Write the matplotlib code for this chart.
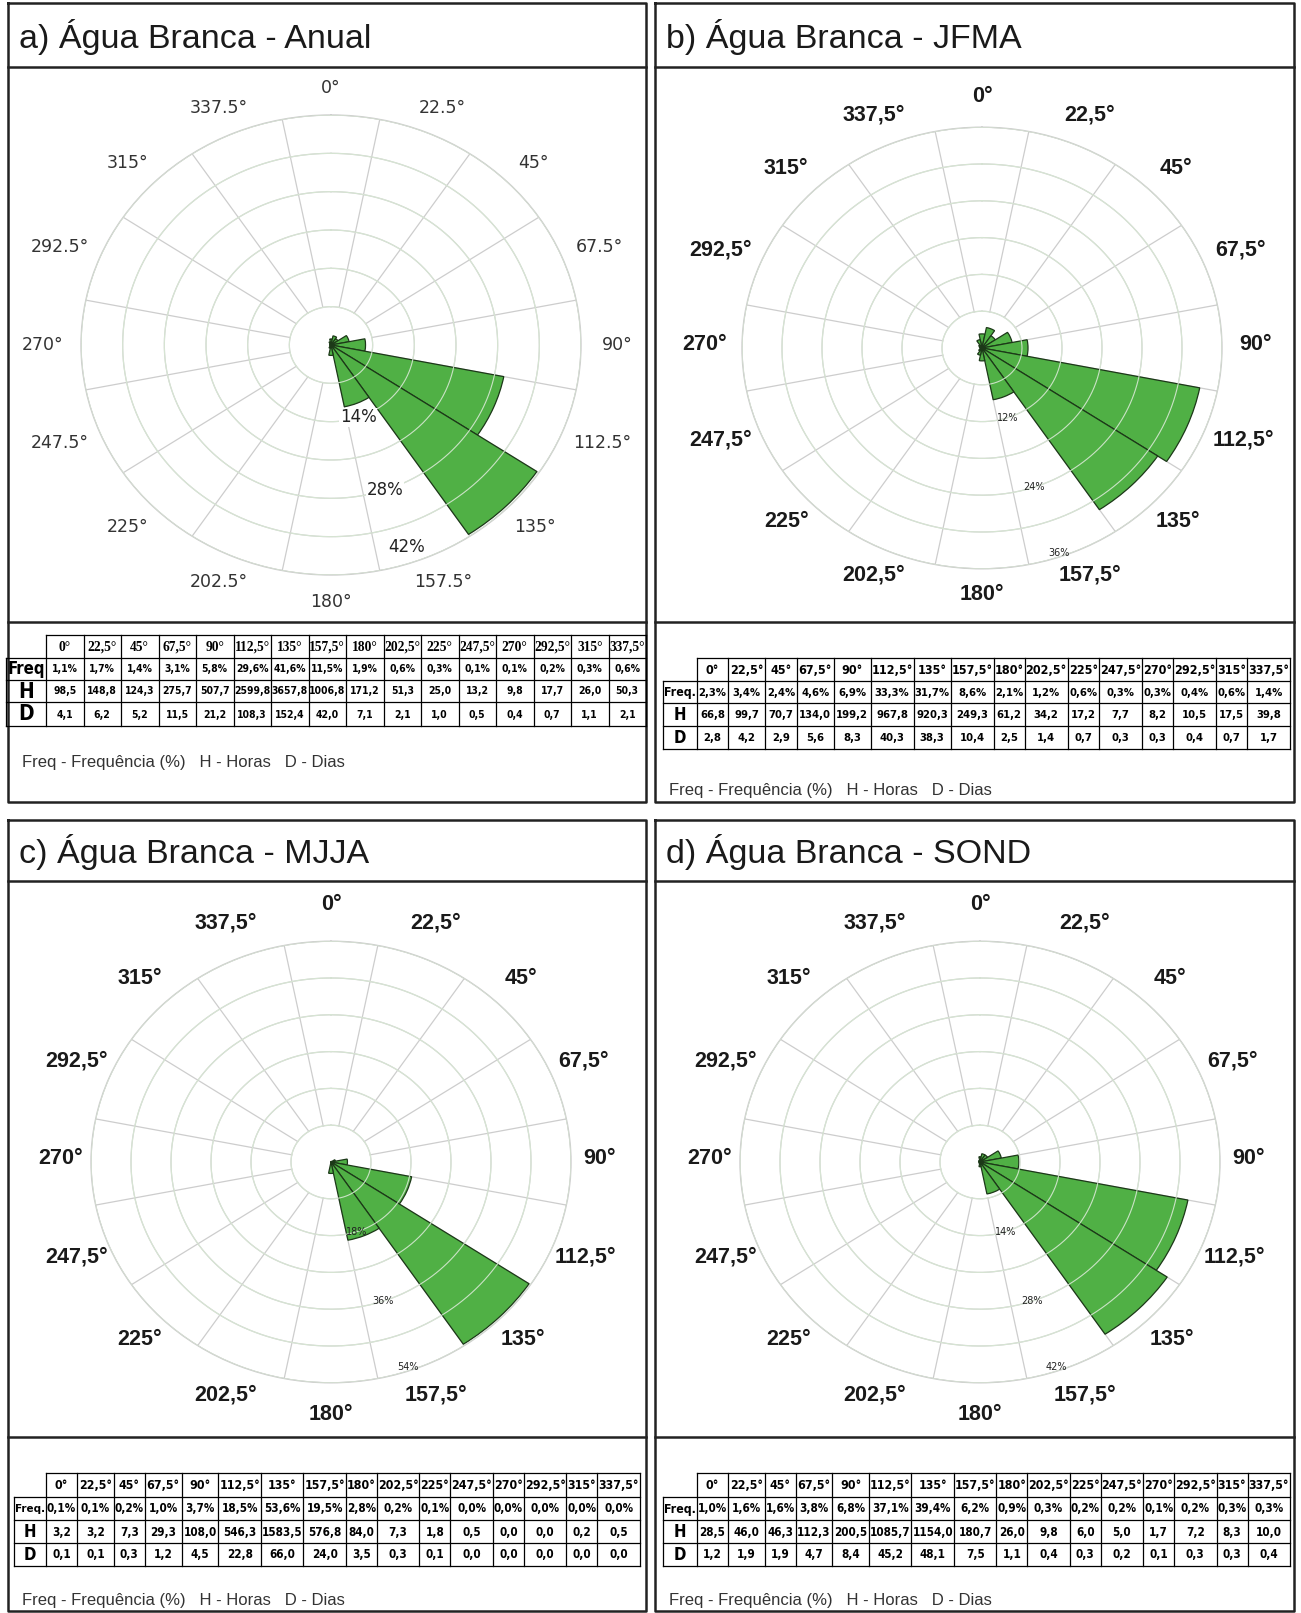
import matplotlib
matplotlib.use('Agg')
import matplotlib.pyplot as plt
from matplotlib import font_manager as fm
from matplotlib.font_manager import FontProperties
import numpy as np

# ====== Dados (rosa dos ventos - Água Branca) ======
direcoes = [0, 22.5, 45, 67.5, 90, 112.5, 135, 157.5, 180, 202.5, 225, 247.5, 270, 292.5, 315, 337.5]
rotulos_virgula = ['0°', '22,5°', '45°', '67,5°', '90°', '112,5°', '135°', '157,5°',
                   '180°', '202,5°', '225°', '247,5°', '270°', '292,5°', '315°', '337,5°']
rotulos_ponto = ['0°', '22.5°', '45°', '67.5°', '90°', '112.5°', '135°', '157.5°',
                 '180°', '202.5°', '225°', '247.5°', '270°', '292.5°', '315°', '337.5°']

titulos = ['a) Água Branca - Anual', 'b) Água Branca - JFMA',
           'c) Água Branca - MJJA', 'd) Água Branca - SOND']

freq_anual = [1.1, 1.7, 1.4, 3.1, 5.8, 29.6, 41.6, 11.5, 1.9, 0.6, 0.3, 0.1, 0.1, 0.2, 0.3, 0.6]
horas_anual = [98.5, 148.8, 124.3, 275.7, 507.7, 2599.8, 3657.8, 1006.8, 171.2, 51.3, 25.0, 13.2, 9.8, 17.7, 26.0, 50.3]
dias_anual = [4.1, 6.2, 5.2, 11.5, 21.2, 108.3, 152.4, 42.0, 7.1, 2.1, 1.0, 0.5, 0.4, 0.7, 1.1, 2.1]

freq_jfma = [2.3, 3.4, 2.4, 4.6, 6.9, 33.3, 31.7, 8.6, 2.1, 1.2, 0.6, 0.3, 0.3, 0.4, 0.6, 1.4]
horas_jfma = [66.8, 99.7, 70.7, 134.0, 199.2, 967.8, 920.3, 249.3, 61.2, 34.2, 17.2, 7.7, 8.2, 10.5, 17.5, 39.8]
dias_jfma = [2.8, 4.2, 2.9, 5.6, 8.3, 40.3, 38.3, 10.4, 2.5, 1.4, 0.7, 0.3, 0.3, 0.4, 0.7, 1.7]

freq_mjja = [0.1, 0.1, 0.2, 1.0, 3.7, 18.5, 53.6, 19.5, 2.8, 0.2, 0.1, 0.0, 0.0, 0.0, 0.0, 0.0]
horas_mjja = [3.2, 3.2, 7.3, 29.3, 108.0, 546.3, 1583.5, 576.8, 84.0, 7.3, 1.8, 0.5, 0.0, 0.0, 0.2, 0.5]
dias_mjja = [0.1, 0.1, 0.3, 1.2, 4.5, 22.8, 66.0, 24.0, 3.5, 0.3, 0.1, 0.0, 0.0, 0.0, 0.0, 0.0]

freq_sond = [1.0, 1.6, 1.6, 3.8, 6.8, 37.1, 39.4, 6.2, 0.9, 0.3, 0.2, 0.2, 0.1, 0.2, 0.3, 0.3]
horas_sond = [28.5, 46.0, 46.3, 112.3, 200.5, 1085.7, 1154.0, 180.7, 26.0, 9.8, 6.0, 5.0, 1.7, 7.2, 8.3, 10.0]
dias_sond = [1.2, 1.9, 1.9, 4.7, 8.4, 45.2, 48.1, 7.5, 1.1, 0.4, 0.3, 0.2, 0.1, 0.3, 0.3, 0.4]

# passo dos anéis (%) de cada rosa
passo_aneis = [7, 6, 9, 7]

# ====== Configurações de layout (pixels) ======
W, H = 1301, 1613
VERDE = '#50b045'
BORDA_PETALA = '#1c3818'
CINZA_GRADE = '#cdcdcd'
ACHATAMENTO = 0.92   # rosas levemente achatadas na vertical, como no original


# fonte condensada em negrito para a tabela, se houver alguma instalada
def acha_condensada():
    melhores = []
    for f in fm.fontManager.ttflist:
        nome = f.name
        estreita = ('Condensed' in nome or 'Narrow' in nome or
                    str(f.stretch) in ('condensed', 'semi-condensed', 'extra-condensed'))
        negrito = str(f.weight).lower() in ('bold', '700', 'semibold', '600', 'demibold', 'heavy', '800')
        if estreita and negrito and f.style == 'normal':
            prio = 0 if 'Liberation' in nome else (1 if 'Sans' in nome else 2)
            melhores.append((prio, f.fname))
    melhores.sort()
    return melhores[0][1] if melhores else None


arq_cond = acha_condensada()


def fonte_tabela(tam):
    if arq_cond:
        return FontProperties(fname=arq_cond, size=tam)
    return FontProperties(family='Liberation Sans', weight='bold', size=tam)


fig = plt.figure(figsize=(W / 100, H / 100), dpi=100)
bg = fig.add_axes([0, 0, 1, 1])
bg.set_xlim(0, W)
bg.set_ylim(H, 0)
bg.axis('off')
renderer = fig.canvas.get_renderer()

paineis = [
    dict(x0=8, x1=646, y0=3, y1=802, yt=67, ytab=622, cx=331, cy=345, R=250,
         A=278, kA=2.6, B=257, dy=0),
    dict(x0=655, x1=1294, y0=3, y1=802, yt=67, ytab=622, cx=982, cy=348, R=240,
         A=265, kA=3.0, B=249, dy=-3),
    dict(x0=8, x1=646, y0=820, y1=1611, yt=881, ytab=1437, cx=331, cy=1162, R=240,
         A=262, kA=2.2, B=255, dy=-3),
    dict(x0=655, x1=1294, y0=820, y1=1611, yt=881, ytab=1437, cx=980, cy=1162, R=240,
         A=262, kA=2.2, B=255, dy=-3),
]


def fmt(v, pct=False):
    s = f'{v:.1f}'.replace('.', ',')
    return s + '%' if pct else s


def rosa(p, freq, rmax, passo, rotulos, estilo_a):
    cx, cy, R = p['cx'], p['cy'], p['R']
    Rv = R * ACHATAMENTO
    ax = fig.add_axes([(cx - R) / W, 1 - (cy + Rv) / H, 2 * R / W, 2 * Rv / H], projection='polar')
    ax.set_aspect('auto')
    ax.set_theta_zero_location('N')
    ax.set_theta_direction(-1)
    ax.set_ylim(0, rmax)
    ax.grid(False)
    ax.set_xticks([])
    ax.set_yticks([])
    ax.spines['polar'].set_color(CINZA_GRADE)
    ax.spines['polar'].set_linewidth(1.0)
    ax.set_facecolor('white')

    # linhas radiais nos limites dos setores, a partir do primeiro anel
    for b in np.arange(11.25, 360, 22.5):
        ax.plot([np.deg2rad(b)] * 2, [passo, rmax], color=CINZA_GRADE, lw=0.9, zorder=1)
    th = np.linspace(0, 2 * np.pi, 400)
    for r in np.arange(passo, rmax + 0.01, passo):
        ax.plot(th, np.full_like(th, r), color=CINZA_GRADE, lw=0.9, zorder=1)

    ax.bar(np.deg2rad(direcoes), freq, width=np.deg2rad(22.5), bottom=0,
           color=VERDE, edgecolor=BORDA_PETALA, linewidth=0.9, zorder=2)
    # anéis claros por cima das pétalas
    for r in np.arange(passo, rmax + 0.01, passo):
        ax.plot(th, np.full_like(th, r), color='#d8e8d4', lw=0.8, zorder=3, alpha=0.9)

    # rótulos percentuais dos anéis
    for k in (2, 4, 6):
        v = passo * k
        if estilo_a:
            ax.text(np.deg2rad(161), v - 0.07 * rmax * (k == 6), f'{v}%', ha='center', va='center',
                    fontsize=12, color='#222222', family='DejaVu Sans', zorder=5,
                    bbox=dict(facecolor='white', edgecolor='none', pad=0.5))
        else:
            ax.text(np.deg2rad(161), v - 0.02 * rmax * (k == 6), f'{v}%', ha='center', va='center',
                    fontsize=7, color='#222222', family='DejaVu Sans', zorder=5)

    # rótulos de direção (posicionados em volta da rosa)
    for d, lab in zip(direcoes, rotulos):
        t = np.deg2rad(d)
        xa = cx + (p['A'] + p['kA'] * len(lab)) * np.sin(t)
        ya = cy + p['dy'] - p['B'] * np.cos(t)
        if estilo_a:
            bg.text(xa, ya, lab, ha='center', va='center', fontsize=12.5,
                    color='#333333', family='DejaVu Sans')
        else:
            bg.text(xa, ya, lab, ha='center', va='center', fontsize=15.5,
                    fontweight='bold', color='#1a1a1a', family='Liberation Sans')
    return ax


def ajusta(textos, larguras, folga=4):
    # reduz a fonte de um grupo de textos até todos caberem nas suas células
    razao = max(t.get_window_extent(renderer=renderer).width / (w - folga)
                for t, w in zip(textos, larguras))
    if razao > 1:
        for t in textos:
            t.set_fontsize(t.get_fontsize() / razao)


def tabela(x0, xd, x1, ys, rotulo_freq, freq, horas, dias, larguras_iguais, estilo_a):
    n = len(direcoes)
    linhas = [[fmt(v, True) for v in freq], [fmt(v) for v in horas], [fmt(v) for v in dias]]
    if larguras_iguais:
        pesos = np.ones(n)
    else:
        pesos = np.array([max(len(rotulos_virgula[j]), *(len(l[j]) for l in linhas)) + 1.4
                          for j in range(n)])
    xs = xd + np.concatenate([[0], np.cumsum(pesos)]) / pesos.sum() * (x1 - xd)
    lw = 0.9
    bg.plot([xd, x1], [ys[0], ys[0]], color='k', lw=lw)
    for y in ys[1:]:
        bg.plot([x0, x1], [y, y], color='k', lw=lw)
    bg.plot([x0, x0], [ys[1], ys[-1]], color='k', lw=lw)
    for x in xs:
        bg.plot([x, x], [ys[0], ys[-1]], color='k', lw=lw)
    yc = [(ys[i] + ys[i + 1]) / 2 for i in range(len(ys) - 1)]
    cab, vals, wc, wv = [], [], [], []
    for j in range(n):
        xm = (xs[j] + xs[j + 1]) / 2
        cw = xs[j + 1] - xs[j]
        if estilo_a:
            t = bg.text(xm, yc[0] + 1, rotulos_virgula[j], ha='center', va='center', fontsize=12.5,
                        fontweight='bold', family=['Liberation Serif', 'DejaVu Serif'])
        else:
            t = bg.text(xm, yc[0] + 0.5, rotulos_virgula[j], ha='center', va='center',
                        fontproperties=fonte_tabela(11))
        cab.append(t)
        wc.append(cw)
        for i, l in enumerate(linhas):
            t = bg.text(xm, yc[i + 1] + 0.5, l[j], ha='center', va='center',
                        fontproperties=fonte_tabela(11 if estilo_a else 12))
            vals.append(t)
            wv.append(cw)
    ajusta(cab, wc, 1.5)
    ajusta(vals, wv, 1.5 if estilo_a else 2)
    xl = (x0 + xs[0]) / 2
    rot = []
    for i, lab in enumerate([rotulo_freq, 'H', 'D']):
        if estilo_a:
            fs = 12 if i == 0 else 15
        else:
            fs = 11.5 if i == 0 else 12
        rot.append(bg.text(xl, yc[i + 1] + 0.5, lab, ha='center', va='center',
                           fontproperties=fonte_tabela(fs)))
    ajusta(rot[:1], [xs[0] - x0], 2)


conjuntos = [
    (freq_anual, horas_anual, dias_anual),
    (freq_jfma, horas_jfma, dias_jfma),
    (freq_mjja, horas_mjja, dias_mjja),
    (freq_sond, horas_sond, dias_sond),
]

for k, p in enumerate(paineis):
    estilo_a = (k == 0)
    # moldura do painel
    bg.plot([p['x0'], p['x1'], p['x1'], p['x0'], p['x0']],
            [p['y0'], p['y0'], p['y1'], p['y1'], p['y0']], color='#222222', lw=1.8)
    bg.plot([p['x0'], p['x1']], [p['yt'], p['yt']], color='#222222', lw=1.8)
    bg.plot([p['x0'], p['x1']], [p['ytab'], p['ytab']], color='#222222', lw=1.8)
    bg.text(p['x0'] + 11, (p['y0'] + p['yt']) / 2 + 2, titulos[k], ha='left', va='center',
            fontsize=24.5, family='Liberation Sans', color='#1a1a1a')

    freq, horas, dias = conjuntos[k]
    passo = passo_aneis[k]
    rosa(p, freq, passo * 6, passo, rotulos_ponto if estilo_a else rotulos_virgula, estilo_a)

    if k == 0:
        tabela(6, 46, 646, [635, 658, 680, 702, 726], 'Freq', freq, horas, dias, True, True)
        ynota = 763
    elif k == 1:
        tabela(663, 697, 1290, [658, 681, 703, 726, 749], 'Freq.', freq, horas, dias, False, False)
        ynota = 790
    else:
        x0 = 14 if k == 2 else 663
        xd = 46 if k == 2 else 697
        x1 = 640 if k == 2 else 1290
        tabela(x0, xd, x1, [1473, 1497, 1520, 1543, 1566], 'Freq.', freq, horas, dias, False, False)
        ynota = 1601
    bg.text(p['x0'] + 14, ynota, 'Freq - Frequência (%)   H - Horas   D - Dias',
            ha='left', va='center', fontsize=12, family='Liberation Sans', color='#333333')

fig.savefig('out.png', dpi=100, facecolor='white')
